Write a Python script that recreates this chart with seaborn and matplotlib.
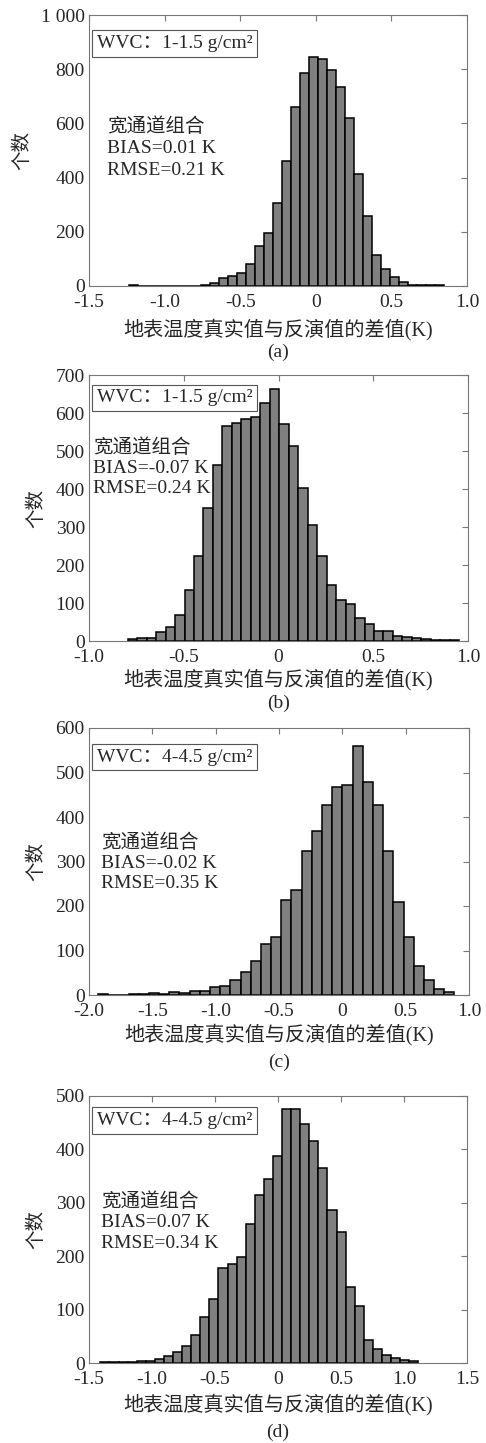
import numpy as np
import pandas as pd
import matplotlib
matplotlib.use("Agg")
import matplotlib.pyplot as plt
import seaborn as sns

# ---------------- data ----------------
a_bin_start, a_bin_width = -1.233, 0.0594
a_counts = [3, 0, 0, 0, 1, 1, 1, 1, 3, 12, 30, 37, 49, 83, 149, 197, 305, 461, 659,
            786, 844, 836, 797, 733, 620, 413, 260, 114, 62, 33, 15, 5, 3, 3, 3]

b_bin_start, b_bin_width = -0.796, 0.05
b_counts = [4, 9, 9, 24, 37, 69, 133, 224, 351, 464, 565, 575, 585, 589, 627, 663,
            571, 514, 403, 306, 224, 148, 108, 97, 61, 44, 27, 27, 14, 10, 7, 5, 3, 3, 2]

c_bin_start, c_bin_width = -1.929, 0.0804
c_counts = [2, 0, 1, 3, 2, 4, 2, 6, 5, 10, 10, 17, 21, 34, 51, 76, 115, 131, 213, 237,
            324, 368, 428, 468, 473, 560, 478, 427, 323, 209, 130, 66, 33, 13, 6]

d_bin_start, d_bin_width = -1.41, 0.0721
d_counts = [2, 1, 2, 2, 3, 3, 8, 13, 21, 32, 53, 87, 119, 177, 185, 198, 260, 315, 345,
            387, 476, 476, 448, 416, 366, 287, 245, 143, 107, 43, 26, 15, 10, 5, 4]

wvc_labels = ["WVC：1-1.5 g/cm²", "WVC：1-1.5 g/cm²", "WVC：4-4.5 g/cm²", "WVC：4-4.5 g/cm²"]
combo_label = "宽通道组合"
bias_labels = ["BIAS=0.01 K", "BIAS=-0.07 K", "BIAS=-0.02 K", "BIAS=0.07 K"]
rmse_labels = ["RMSE=0.21 K", "RMSE=0.24 K", "RMSE=0.35 K", "RMSE=0.34 K"]
captions = ["(a)", "(b)", "(c)", "(d)"]

x_ticks = [[-1.5, -1.0, -0.5, 0, 0.5, 1.0],
           [-1.0, -0.5, 0, 0.5, 1.0],
           [-2.0, -1.5, -1.0, -0.5, 0, 0.5, 1.0],
           [-1.5, -1.0, -0.5, 0, 0.5, 1.0, 1.5]]
x_tick_labels = [["-1.5", "-1.0", "-0.5", "0", "0.5", "1.0"],
                 ["-1.0", "-0.5", "0", "0.5", "1.0"],
                 ["-2.0", "-1.5", "-1.0", "-0.5", "0", "0.5", "1.0"],
                 ["-1.5", "-1.0", "-0.5", "0", "0.5", "1.0", "1.5"]]
y_ticks = [[0, 200, 400, 600, 800, 1000],
           [0, 100, 200, 300, 400, 500, 600, 700],
           [0, 100, 200, 300, 400, 500, 600],
           [0, 100, 200, 300, 400, 500]]
y_tick_labels = [["0", "200", "400", "600", "800", "1 000"],
                 ["0", "100", "200", "300", "400", "500", "600", "700"],
                 ["0", "100", "200", "300", "400", "500", "600"],
                 ["0", "100", "200", "300", "400", "500"]]

xlabel = "地表温度真实值与反演值的差值(K)"
ylabel = "个数"

# ---------------- style ----------------
sns.set_style("white")
plt.rcParams["font.family"] = ["Liberation Serif", "Noto Sans CJK SC"]
plt.rcParams["axes.unicode_minus"] = False

W, H = 486, 1443
fig = plt.figure(figsize=(W / 100, H / 100), dpi=100)

# axes boxes in pixels: left, right, top, bottom
boxes = [(89, 467, 15, 286), (89, 468, 375, 641), (89, 469, 728, 995), (89, 467, 1096, 1363)]
panels = [(a_bin_start, a_bin_width, a_counts),
          (b_bin_start, b_bin_width, b_counts),
          (c_bin_start, c_bin_width, c_counts),
          (d_bin_start, d_bin_width, d_counts)]
# text positions in axes fractions: box y, text x, three line y's
box_y = [0.895, 0.914, 0.891, 0.908]
ann_x = [0.048, 0.011, 0.032, 0.032]
ann_y = [(0.587, 0.509, 0.428), (0.726, 0.650, 0.575), (0.569, 0.491, 0.416), (0.603, 0.528, 0.449)]
xlabel_y = [330, 680, 1035, 1405]
caption_y = [352, 703, 1062, 1432]

FS = 14
for i, ((l, r, t, b), (start, width, counts)) in enumerate(zip(boxes, panels)):
    ax = fig.add_axes([l / W, 1 - b / H, (r - l) / W, (b - t) / H])
    n = len(counts)
    edges = (start + width * np.arange(n + 1)).tolist()
    centers = [(edges[k] + edges[k + 1]) / 2 for k in range(n)]
    df = pd.DataFrame({"diff": centers, "count": counts})
    sns.histplot(data=df, x="diff", weights="count", bins=edges, ax=ax,
                 color="#808080", edgecolor="black", linewidth=1.1, alpha=1.0)
    ax.set_xlim(x_ticks[i][0], x_ticks[i][-1])
    ax.set_ylim(y_ticks[i][0], y_ticks[i][-1])
    ax.set_xticks(x_ticks[i])
    ax.set_xticklabels(x_tick_labels[i], fontsize=FS)
    ax.set_yticks(y_ticks[i])
    ax.set_yticklabels(y_tick_labels[i], fontsize=FS)
    ax.tick_params(direction="in", top=True, right=True, length=4, width=0.8,
                   color="#777777")
    ax.tick_params(axis="x", pad=6)
    ax.tick_params(axis="y", pad=3)
    for s in ax.spines.values():
        s.set_color("#777777")
        s.set_linewidth(0.8)
    ax.set_xlabel("")
    ax.set_ylabel(ylabel, fontsize=FS, labelpad=7)

    ax.text(0.021, box_y[i], wvc_labels[i], transform=ax.transAxes, fontsize=FS,
            va="center", ha="left",
            bbox=dict(boxstyle="square,pad=0.25", fc="white", ec="#555555", lw=0.8))
    for txt, yy in zip([combo_label, bias_labels[i], rmse_labels[i]], ann_y[i]):
        ax.text(ann_x[i], yy, txt, transform=ax.transAxes, fontsize=FS,
                va="center", ha="left")

    cx = ((l + r) / 2) / W
    fig.text(cx, 1 - xlabel_y[i] / H, xlabel, fontsize=14.5, ha="center", va="center")
    fig.text(cx, 1 - caption_y[i] / H, captions[i], fontsize=FS, ha="center", va="center")

fig.savefig("out.png", dpi=100, facecolor="white")
